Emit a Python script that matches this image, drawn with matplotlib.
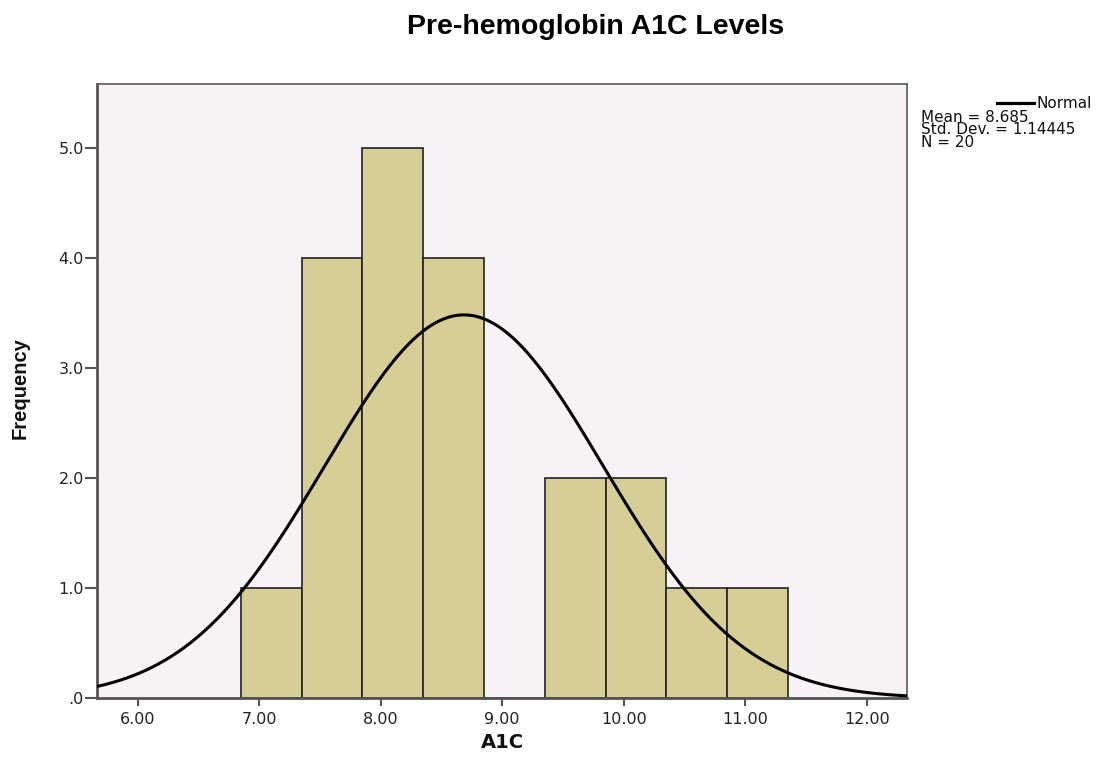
import numpy as np
import matplotlib
matplotlib.use("Agg")
import matplotlib.pyplot as plt

# Data
bin_edges = [6.85, 7.35, 7.85, 8.35, 8.85, 9.35, 9.85, 10.35, 10.85, 11.35]
counts = [1, 4, 5, 4, 0, 2, 2, 1, 1]
mean_val = 8.685
std_val = 1.14445
n_val = 20
x_ticks = [6.0, 7.0, 8.0, 9.0, 10.0, 11.0, 12.0]
x_tick_labels = ["6.00", "7.00", "8.00", "9.00", "10.00", "11.00", "12.00"]
y_ticks = [0, 1, 2, 3, 4, 5]
y_tick_labels = [".0", "1.0", "2.0", "3.0", "4.0", "5.0"]

W, H = 1118, 771
fig = plt.figure(figsize=(W / 100, H / 100), dpi=100)
fig.patch.set_facecolor("white")
ax = fig.add_axes([97 / W, 1 - 698.3 / H, (907 - 97) / W, (698.3 - 84) / H])
ax.set_facecolor("#F6F2F6")

lefts = bin_edges[:-1]
widths = np.diff(bin_edges)
ax.bar(lefts, counts, width=widths, align="edge", color="#D6CE96",
       edgecolor="#222222", linewidth=1.2, zorder=2)

xlim = (5.666, 12.33)
xs = np.linspace(xlim[0], xlim[1], 500)
bw = widths[0]
ys = n_val * bw / (std_val * np.sqrt(2 * np.pi)) * np.exp(-0.5 * ((xs - mean_val) / std_val) ** 2)
ax.plot(xs, ys, color="black", linewidth=2.2, zorder=3, solid_capstyle="butt")

ax.set_xlim(*xlim)
ax.set_ylim(0, 5.585)
ax.set_xticks(x_ticks)
ax.set_xticklabels(x_tick_labels, fontsize=11.5, family="DejaVu Sans", color="#222222")
ax.set_yticks(y_ticks)
ax.set_yticklabels(y_tick_labels, fontsize=11.5, family="DejaVu Sans", color="#222222")
ax.tick_params(axis="x", direction="out", length=5.8, width=1.5, color="#555555", pad=4)
ax.tick_params(axis="y", direction="out", length=9, width=1.5, color="#555555", pad=0.5)

for side in ["left", "bottom"]:
    ax.spines[side].set_color("#555555")
    ax.spines[side].set_linewidth(2.0)
for side in ["top", "right"]:
    ax.spines[side].set_color("#666666")
    ax.spines[side].set_linewidth(1.3)

def fx(px):
    return px / W

def fy(py):
    return 1 - py / H

fig.text(fx(596), fy(27), "Pre-hemoglobin A1C Levels", ha="center", va="center",
         fontsize=20.5, fontweight="bold", family=["Liberation Sans", "DejaVu Sans"])
fig.text(fx(502), fy(742), "A1C", ha="center", va="center",
         fontsize=14, fontweight="bold", family="DejaVu Sans", color="#111111")
fig.text(fx(20), fy(388), "Frequency", ha="center", va="center", rotation=90,
         fontsize=14.5, fontweight="bold", family=["Liberation Sans Narrow", "Liberation Sans", "DejaVu Sans"],
         color="#111111")

# Legend
fig.add_artist(plt.Line2D([fx(997), fx(1034)], [fy(103), fy(103)], color="black",
                          linewidth=2.3, transform=fig.transFigure))
fig.text(fx(1036), fy(104), "Normal", ha="left", va="center", fontsize=11,
         family="DejaVu Sans", color="#111111")
legend_lines = ["Mean = %.3f" % mean_val, "Std. Dev. = %.5f" % std_val, "N = %d" % n_val]
fig.text(fx(921), fy(110), "\n".join(legend_lines), ha="left", va="top", fontsize=11,
         family="DejaVu Sans", color="#111111", linespacing=0.78)

fig.savefig("out.png", dpi=100)
